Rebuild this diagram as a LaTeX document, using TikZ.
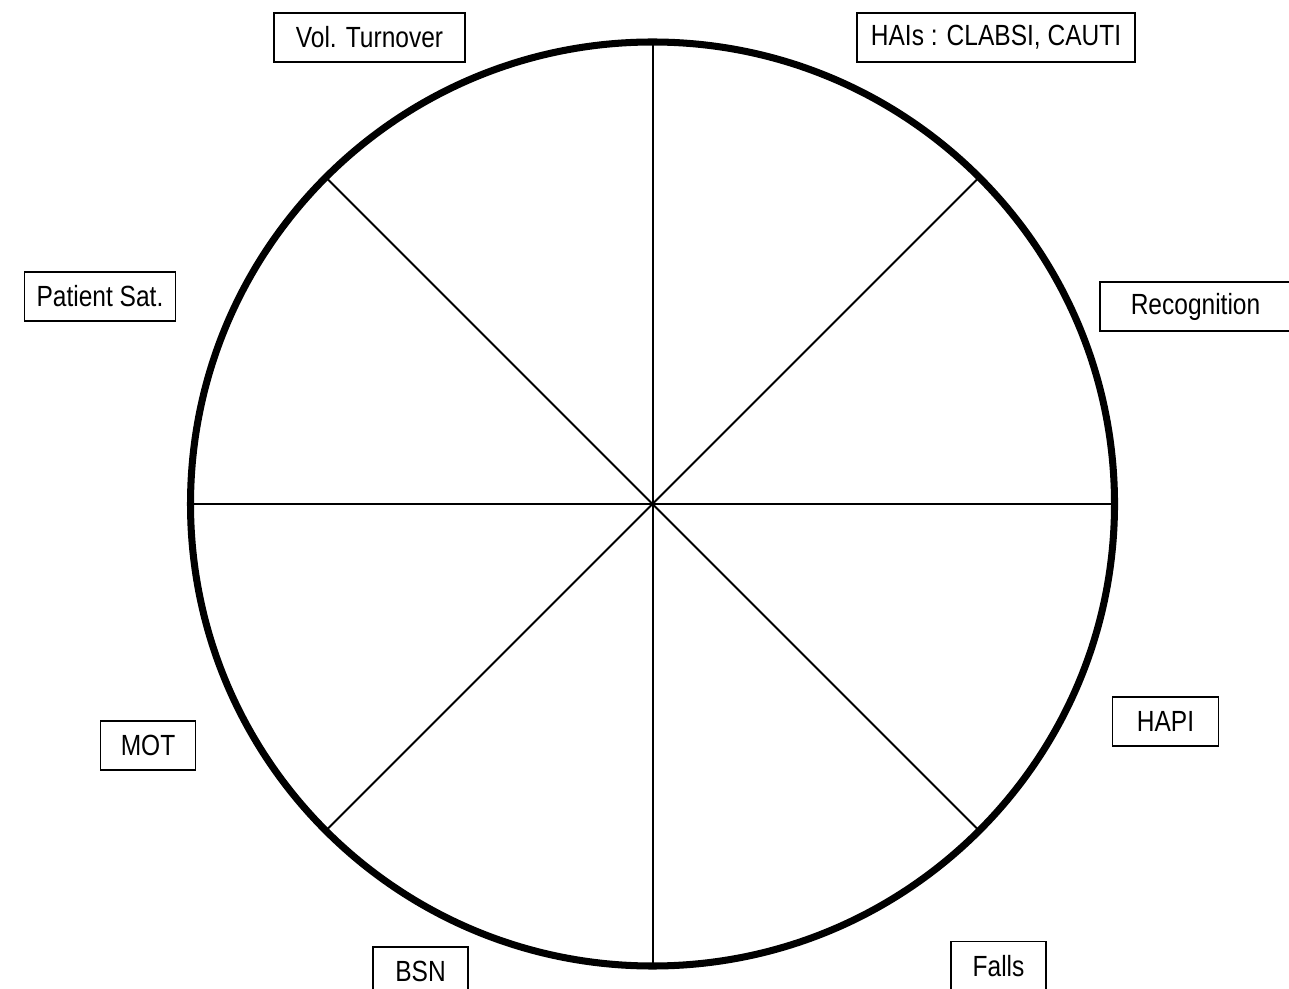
\documentclass[tikz,border=0pt]{standalone}
\usepackage{fontspec}
\setmainfont[FakeStretch=0.84]{Liberation Sans}
\usetikzlibrary{positioning}

\begin{document}
\begin{tikzpicture}[x=0.01cm,y=-0.01cm,
  tag/.style={draw,line width=0.42pt,inner sep=0pt,minimum height=0.49cm,font=\fontsize{8.3}{10}\selectfont}]
\useasboundingbox (0,0) rectangle (1289,989);
\coordinate (hub) at (652.5,504);
\foreach \a in {0,45,...,315}
  \draw[line width=0.57pt] (hub)--++(\a:462);
\draw[line width=2pt] (hub) circle[radius=462];
\node[tag,minimum width=1.91cm] (vol) at (369.5,37.5) {Vol. Turnover};
\node[tag,minimum width=2.78cm] (hai) at (996,37.5) {HAIs : CLABSI, CAUTI};
\node[tag,minimum width=1.51cm] (sat) at (100,296.5) {Patient Sat.};
\node[tag,minimum width=1.91cm] (rec) at (1195.5,306.5) {Recognition};
\node[tag,minimum width=1.06cm] (hapi) at (1165.5,721.5) {HAPI};
\node[tag,minimum width=0.95cm] (mot) at (148,745.5) {MOT};
\node[tag,minimum width=0.95cm] (bsn) at (420.5,971.5) {BSN};
\node[tag,minimum width=0.95cm] (falls) at (998.5,966) {Falls};
\end{tikzpicture}
\end{document}
